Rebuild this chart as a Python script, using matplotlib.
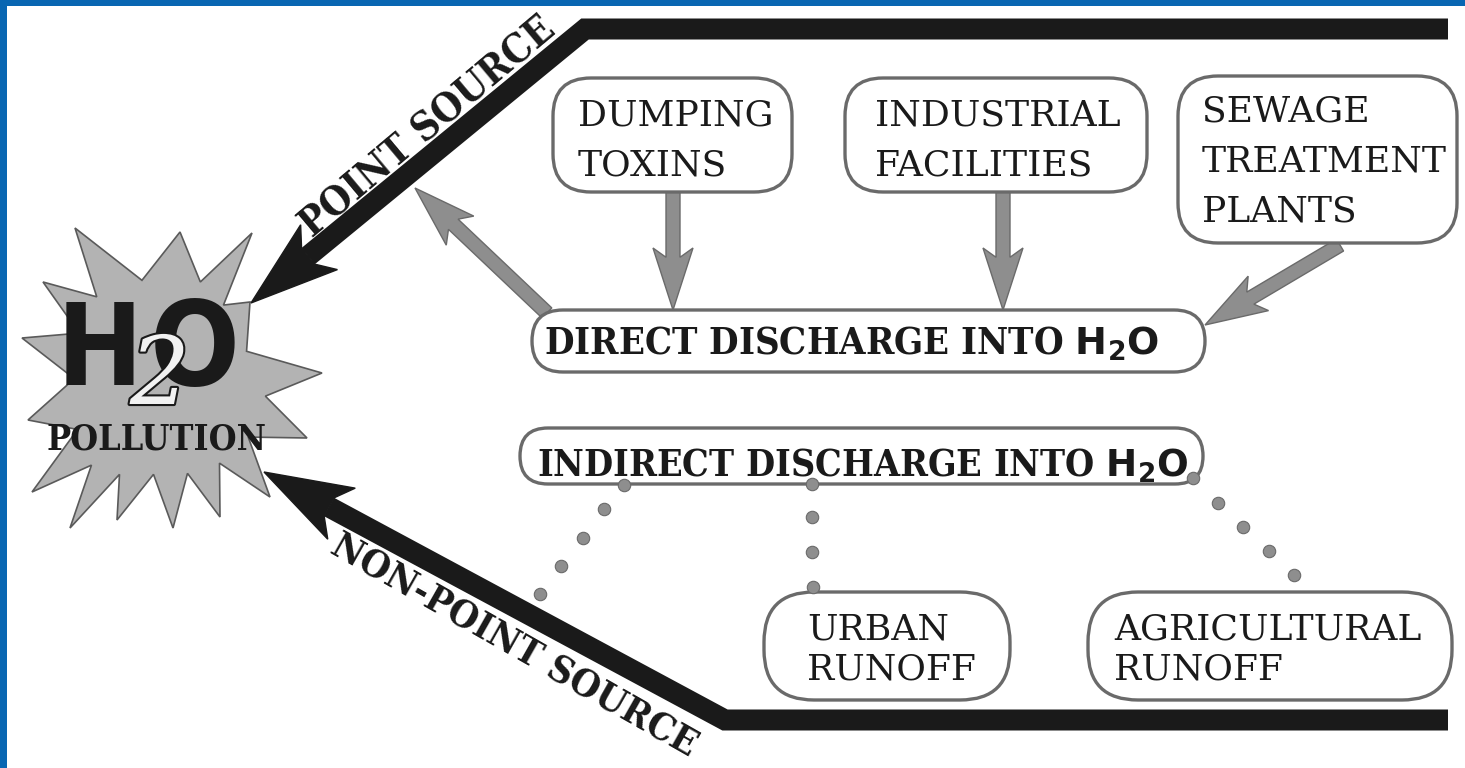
import numpy as np
import matplotlib.pyplot as plt
import matplotlib.patheffects as pe
from matplotlib.patches import FancyBboxPatch, FancyArrow, Polygon

plt.rcParams['mathtext.fontset'] = 'dejavusans'

W, H = 1465, 768
BLUE = '#0866b2'
INK = '#1a1a1a'
GREY = '#8e8e8e'
GREY_EDGE = '#6a6a6a'

# rounded label boxes (pixel frame, y down)
box_lines = [['DUMPING', 'TOXINS'],
             ['INDUSTRIAL', 'FACILITIES'],
             ['SEWAGE', 'TREATMENT', 'PLANTS'],
             ['URBAN', 'RUNOFF'],
             ['AGRICULTURAL', 'RUNOFF']]
box_x0 = [553, 845, 1178, 764, 1088]
box_y0 = [78, 78, 76, 592, 592]
box_x1 = [792, 1147, 1457, 1010, 1452]
box_y1 = [192, 192, 243, 700, 700]
box_round = [38, 38, 40, 50, 50]
text_x = [578, 875, 1202, 807, 1114]
first_base = [125, 125, 122, 640, 640]
line_step = [50, 50, 50, 40, 40]

# discharge bars
bar_labels = [r'DIRECT DISCHARGE INTO $\mathbf{H_2O}$',
              r'INDIRECT DISCHARGE INTO $\mathbf{H_2O}$']
bar_x0 = [532, 520]
bar_y0 = [310, 428]
bar_x1 = [1205, 1203]
bar_y1 = [372, 484]
bar_text_x = [544, 537]
bar_text_w = [615, 652]
bar_base = [355, 477]

# grey arrows: tail -> tip
garrow_tail = [(547, 313), (673, 192), (1003, 192), (1340, 245)]
garrow_tip = [(415, 188), (673, 310), (1003, 310), (1205, 325)]

# dotted links from the indirect bar
dot_x = [624, 604, 583, 561, 540, 812, 812, 812, 813, 1193, 1218, 1243, 1269, 1294]
dot_y = [485, 509, 538, 566, 594, 484, 517, 552, 587, 478, 503, 527, 551, 575]

# black source arrows: start, corner, tip
point_x = [1448, 585, 251]
point_y = [29, 29, 303]
nonpoint_x = [1448, 725, 264]
nonpoint_y = [720, 720, 472]

# starburst spikes (clockwise from upper left)
star_tip_x = [75, 180, 252, 250, 322, 307, 270, 220, 173, 117, 70, 32, 28, 22, 43]
star_tip_y = [228, 232, 233, 302, 373, 438, 497, 517, 528, 520, 528, 492, 420, 338, 282]
star_center = (170, 378)

fig = plt.figure(figsize=(W / 100, H / 100), dpi=100)
ax = fig.add_axes([0, 0, 1, 1])
ax.set_xlim(0, W)
ax.set_ylim(H, 0)
ax.axis('off')
fig.patch.set_facecolor('white')
renderer = fig.canvas.get_renderer()


def fit_width(t, width):
    # shrink/grow font so that the unrotated text spans `width` pixels
    ext = t.get_window_extent(renderer)
    t.set_fontsize(t.get_fontsize() * width / ext.width)


def black_arrow(xs, ys, lw_px=21, L=88, Wd=58, notch=14):
    tip = np.array([xs[-1], ys[-1]], float)
    prev = np.array([xs[-2], ys[-2]], float)
    u = (prev - tip) / np.hypot(*(prev - tip))
    n = np.array([-u[1], u[0]])
    neck = tip + u * (L - notch)
    base = tip + u * L
    ax.plot(list(xs[:-1]) + [neck[0]], list(ys[:-1]) + [neck[1]], color=INK,
            lw=lw_px * 0.72, solid_joinstyle='miter', solid_capstyle='butt', zorder=4)
    head = [tip, base + n * Wd / 2, neck + n * lw_px / 2, neck - n * lw_px / 2, base - n * Wd / 2]
    ax.add_patch(Polygon(head, closed=True, fc=INK, ec=INK, lw=1, zorder=4))


# blue frame
ax.add_patch(plt.Rectangle((0, 0), W, 6, fc=BLUE, ec='none', zorder=10))
ax.add_patch(plt.Rectangle((0, 0), 7, H, fc=BLUE, ec='none', zorder=10))

# starburst
cx, cy = star_center
tips = np.column_stack([star_tip_x, star_tip_y]).astype(float)
pts = []
for i in range(len(tips)):
    a, b = tips[i], tips[(i + 1) % len(tips)]
    mid = (a + b) / 2
    pts.append(a)
    pts.append(np.array([cx, cy]) + 0.66 * (mid - np.array([cx, cy])))
ax.add_patch(Polygon(pts, closed=True, fc='#b3b3b3', ec='#5a5a5a', lw=1.2, zorder=2))

# H2O logo
logo_font = ['Liberation Sans Narrow', 'DejaVu Sans']
t = ax.text(57, 385, 'H', fontsize=110, fontweight='bold', color=INK,
            family=logo_font, fontstretch='condensed',
            ha='left', va='baseline', zorder=3)
fit_width(t, 86)
t = ax.text(150, 385, 'O', fontsize=108, fontweight='bold', color=INK,
            family=logo_font, fontstretch='condensed',
            ha='left', va='baseline', zorder=3)
fit_width(t, 90)
ax.text(160, 378, '2', fontsize=68, fontstyle='italic', color='#f2f2f2',
        family='DejaVu Serif', ha='center', va='center', zorder=3,
        path_effects=[pe.withStroke(linewidth=3, foreground=INK)])
t = ax.text(157, 440, 'POLLUTION', fontsize=26, fontweight='bold', color=INK,
            family='DejaVu Serif', fontstretch='condensed',
            ha='center', va='center', zorder=3)
fit_width(t, 220)

# black source arrows
black_arrow(point_x, point_y)
black_arrow(nonpoint_x, nonpoint_y)

t = ax.text(428, 127, 'POINT SOURCE', fontsize=20, fontweight='bold', color=INK,
            family='DejaVu Serif', fontstretch='condensed',
            ha='center', va='center', rotation_mode='anchor', zorder=5)
fit_width(t, 320)
t.set_rotation(40)
t = ax.text(514, 646, 'NON-POINT SOURCE', fontsize=20, fontweight='bold', color=INK,
            family='DejaVu Serif', fontstretch='condensed',
            ha='center', va='center', rotation_mode='anchor', zorder=5)
fit_width(t, 415)
t.set_rotation(-29.6)

# grey arrows
for (x0, y0), (x1, y1) in zip(garrow_tail, garrow_tip):
    ax.add_patch(FancyArrow(x0, y0, x1 - x0, y1 - y0, width=14, head_width=40,
                            head_length=62, length_includes_head=True, overhang=0.15,
                            fc=GREY, ec=GREY_EDGE, lw=1, zorder=1))

# label boxes
for lines, x0, y0, x1, y1, r, tx, b0, st in zip(box_lines, box_x0, box_y0, box_x1, box_y1,
                                                 box_round, text_x, first_base, line_step):
    ax.add_patch(FancyBboxPatch((x0, y0), x1 - x0, y1 - y0,
                                boxstyle=f'round,pad=0,rounding_size={r}',
                                fc='white', ec=GREY_EDGE, lw=2.4, zorder=2))
    for k, s in enumerate(lines):
        ax.text(tx, b0 + k * st, s, fontsize=26, color=INK, family='DejaVu Serif',
                ha='left', va='baseline', zorder=3)

# discharge bars
for s, x0, y0, x1, y1, tx, tw, bl in zip(bar_labels, bar_x0, bar_y0, bar_x1, bar_y1,
                                         bar_text_x, bar_text_w, bar_base):
    ax.add_patch(FancyBboxPatch((x0, y0), x1 - x0, y1 - y0,
                                boxstyle=f'round,pad=0,rounding_size={(y1 - y0) / 2}',
                                fc='white', ec=GREY_EDGE, lw=2.4, zorder=2))
    t = ax.text(tx, bl, s, fontsize=30, fontweight='bold', color=INK,
                family='DejaVu Serif', fontstretch='condensed',
                ha='left', va='baseline', zorder=3)
    fit_width(t, tw)

# dotted links
ax.scatter(dot_x, dot_y, s=80, color=GREY, edgecolors=GREY_EDGE, linewidths=0.8, zorder=3)

fig.savefig('out.png', dpi=100, facecolor='white')
